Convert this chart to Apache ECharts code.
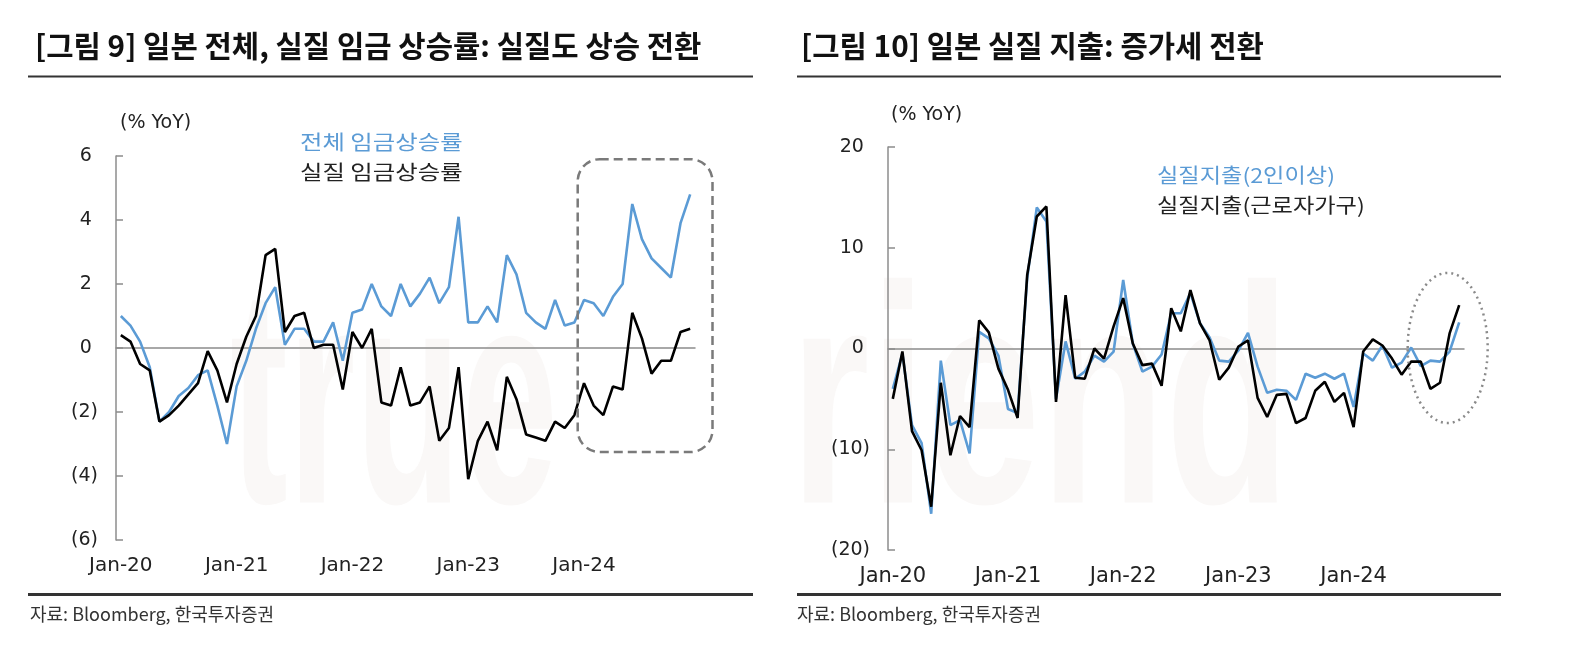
<!DOCTYPE html>
<html>
<head>
<meta charset="utf-8">
<script src="https://cdn.jsdelivr.net/npm/echarts@6/dist/echarts.min.js"></script>
<style>
  html, body { margin: 0; padding: 0; background: #fff; }
  #chart { width: 1578px; height: 656px; }
</style>
</head>
<body>
<div id="chart"></div>
<script>
// 월별 카테고리 (Jan-20 ~ Dec-24)
const monthNames = ['Jan', 'Feb', 'Mar', 'Apr', 'May', 'Jun', 'Jul', 'Aug', 'Sep', 'Oct', 'Nov', 'Dec'];
const yearNames = ['20', '21', '22', '23', '24'];
const categories = yearNames.flatMap((y) => monthNames.map((m) => `${m}-${y}`));

// [그림 9] 임금 상승률 (% YoY)
const nominalWage = [
  1.0, 0.7, 0.2, -0.6, -2.3, -2.0, -1.5, -1.25, -0.85, -0.7, -1.8, -3.0,
  -1.2, -0.4, 0.6, 1.4, 1.9, 0.1, 0.6, 0.6, 0.2, 0.2, 0.8, -0.4,
  1.1, 1.2, 2.0, 1.3, 1.0, 2.0, 1.3, 1.7, 2.2, 1.4, 1.9, 4.1,
  0.8, 0.8, 1.3, 0.8, 2.9, 2.3, 1.1, 0.8, 0.6, 1.5, 0.7, 0.8,
  1.5, 1.4, 1.0, 1.6, 2.0, 4.5, 3.4, 2.8, 2.5, 2.2, 3.9, 4.8,
];
const realWage = [
  0.4, 0.2, -0.5, -0.7, -2.3, -2.1, -1.8, -1.45, -1.1, -0.1, -0.7, -1.7,
  -0.5, 0.35, 1.0, 2.9, 3.1, 0.5, 1.0, 1.1, 0.0, 0.1, 0.1, -1.3,
  0.5, 0.0, 0.6, -1.7, -1.8, -0.6, -1.8, -1.7, -1.2, -2.9, -2.5, -0.6,
  -4.1, -2.9, -2.3, -3.2, -0.9, -1.6, -2.7, -2.8, -2.9, -2.3, -2.5, -2.1,
  -1.1, -1.8, -2.1, -1.2, -1.3, 1.1, 0.3, -0.8, -0.4, -0.4, 0.5, 0.6,
];

// [그림 10] 실질 지출 (% YoY)
const spendTwoPlus = [
  -4.0, -0.5, -7.6, -9.4, -16.4, -1.2, -7.6, -7.1, -10.4, 1.65, 1.0, -0.7,
  -6.0, -6.4, 7.0, 14.0, 12.6, -5.0, 0.7, -3.0, -2.3, -0.7, -1.3, -0.3,
  6.8, 0.5, -2.3, -1.8, -0.6, 3.5, 3.5, 5.5, 2.5, 1.1, -1.2, -1.3,
  -0.2, 1.55, -1.8, -4.4, -4.1, -4.2, -5.1, -2.5, -2.9, -2.5, -3.0, -2.5,
  -5.8, -0.5, -1.2, 0.3, -1.9, -1.4, 0.1, -1.75, -1.2, -1.3, -0.3, 2.6,
];
const spendWorker = [
  -5.0, -0.3, -8.2, -10.1, -15.7, -3.4, -10.6, -6.7, -7.8, 2.8, 1.6, -2.0,
  -4.1, -6.9, 7.3, 13.1, 14.1, -5.3, 5.3, -2.9, -3.0, 0.0, -1.0, 2.2,
  5.0, 0.5, -1.65, -1.5, -3.7, 4.0, 1.7, 5.8, 2.5, 0.8, -3.1, -1.9,
  0.2, 0.8, -4.9, -6.8, -4.6, -4.5, -7.4, -6.9, -4.2, -3.3, -5.3, -4.4,
  -7.8, -0.3, 0.9, 0.3, -1.0, -2.6, -1.3, -1.3, -4.0, -3.4, 1.5, 4.3,
];

const BLUE = '#5b9bd5';
const BLACK = '#000000';
const AXIS_GRAY = '#8c8c8c';
const LATIN = "'DejaVu Sans', 'Noto Sans CJK KR', sans-serif";
const KR = "'Noto Sans CJK KR', sans-serif";

const yFmt = (v) => (v < 0 ? `(${Math.abs(v)})` : `${v} `);

function zeroAxis(gridIndex) {
  return {
    type: 'category', gridIndex, data: categories, boundaryGap: true,
    axisLine: { onZero: true, lineStyle: { color: AXIS_GRAY, width: 1.5 } },
    axisTick: { inside: true, interval: 11, length: 6, lineStyle: { color: AXIS_GRAY, width: 1.5 } },
    axisLabel: { show: false },
  };
}
function labelAxis(gridIndex, size, margin) {
  return {
    type: 'category', gridIndex, data: categories, boundaryGap: true, position: 'bottom',
    axisLine: { show: false, onZero: false }, axisTick: { show: false },
    axisLabel: { interval: 11, color: '#222', fontSize: size, fontFamily: LATIN, margin },
  };
}
function valueAxis(gridIndex, min, max, interval) {
  return {
    type: 'value', gridIndex, min, max, interval,
    axisLine: { show: true, lineStyle: { color: AXIS_GRAY, width: 1.5 } },
    axisTick: { show: true, inside: true, length: 7, lineStyle: { color: AXIS_GRAY, width: 1.5 } },
    splitLine: { show: false },
    axisLabel: { formatter: yFmt, color: '#222', fontSize: 19, fontFamily: LATIN, margin: 18 },
  };
}
function lineSeries(name, data, color, axisIdx) {
  return {
    name, type: 'line', data, xAxisIndex: axisIdx, yAxisIndex: axisIdx / 2,
    symbol: 'none', smooth: false, lineStyle: { color, width: 2.6 }, itemStyle: { color },
    z: color === BLACK ? 3 : 2, silent: true,
  };
}

const chart = echarts.init(document.getElementById('chart'), null, { renderer: 'canvas' });

chart.setOption({
  animation: false,
  backgroundColor: '#fff',
  grid: [
    { left: 116, top: 156, width: 579, height: 384 },
    { left: 888, top: 147, width: 576, height: 403 },
  ],
  xAxis: [zeroAxis(0), labelAxis(0, 20, 16), zeroAxis(1), labelAxis(1, 21, 16)],
  yAxis: [valueAxis(0, -6, 6, 2), valueAxis(1, -20, 20, 10)],
  series: [
    lineSeries('전체 임금상승률', nominalWage, BLUE, 0),
    lineSeries('실질 임금상승률', realWage, BLACK, 0),
    lineSeries('실질지출(2인이상)', spendTwoPlus, BLUE, 2),
    lineSeries('실질지출(근로자가구)', spendWorker, BLACK, 2),
  ],
});

// 주석 도형: 데이터 좌표에서 픽셀로 환산
const px = (axisIdx, idx, val) => chart.convertToPixel({ xAxisIndex: axisIdx, yAxisIndex: axisIdx / 2 }, [idx, val]);
const stepL = px(0, 1, 0)[0] - px(0, 0, 0)[0];
const boxTL = px(0, 48, 5.9);
const boxBR = px(0, 59, -3.25);
const stepR = px(2, 1, 0)[0] - px(2, 0, 0)[0];
const ellTop = px(2, 57, 7.5);
const ellBot = px(2, 57, -7.4);

const text = (str, x, y, size, extra, scaleX) => ({
  type: 'text', x, y, scaleX: scaleX || 1,
  style: Object.assign({ text: str, fontSize: size, fontFamily: KR, fill: '#111' }, extra || {}),
});
const WM = { fontFamily: "'Liberation Sans', sans-serif", fontWeight: 'bold', fill: '#faf8f7' };

chart.setOption({
  graphic: [
    // 워터마크
    Object.assign(text('true', 230, 262, 310, WM, 0.56), { z: -10 }),
    Object.assign(text('riend', 790, 262, 310, WM, 0.66), { z: -10 }),
    // 제목
    text('[그림 9] 일본 전체, 실질 임금 상승률: 실질도 상승 전환', 35, 31, 30, { fontWeight: 'bold' }, 0.99),
    text('[그림 10] 일본 실질 지출: 증가세 전환', 801, 31, 30, { fontWeight: 'bold' }, 0.99),
    { type: 'line', shape: { x1: 28, y1: 76.5, x2: 753, y2: 76.5 }, style: { stroke: '#333', lineWidth: 2 } },
    { type: 'line', shape: { x1: 797, y1: 76.5, x2: 1501, y2: 76.5 }, style: { stroke: '#333', lineWidth: 2 } },
    // 하단 선 및 출처
    { type: 'line', shape: { x1: 28, y1: 594.5, x2: 753, y2: 594.5 }, style: { stroke: '#333', lineWidth: 3 } },
    { type: 'line', shape: { x1: 797, y1: 594.5, x2: 1501, y2: 594.5 }, style: { stroke: '#333', lineWidth: 3 } },
    text('자료: Bloomberg, 한국투자증권', 30, 605, 18, { fill: '#333' }),
    text('자료: Bloomberg, 한국투자증권', 797, 605, 18, { fill: '#333' }),
    // 단위
    text('(% YoY)', 120, 114, 19, { fontFamily: LATIN, fill: '#222' }),
    text('(% YoY)', 891, 106, 19, { fontFamily: LATIN, fill: '#222' }),
    // 범례
    text('전체 임금상승률', 300, 132, 20, { fill: BLUE }, 1.22),
    text('실질 임금상승률', 300, 162, 20, { fill: '#222' }, 1.22),
    text('실질지출(2인이상)', 1157, 165, 20, { fill: BLUE }, 1.16),
    text('실질지출(근로자가구)', 1157, 195, 20, { fill: '#222' }, 1.16),
    // 강조 박스 (점선 둥근 사각형)
    {
      type: 'rect', z: 10,
      shape: {
        x: boxTL[0] - stepL / 2 - 1.5, y: boxTL[1],
        width: boxBR[0] - boxTL[0] + stepL + 19, height: boxBR[1] - boxTL[1], r: 22,
      },
      style: { fill: 'none', stroke: '#7a7a7a', lineWidth: 2.5, lineDash: [9, 5] },
    },
    // 강조 타원 (점선)
    {
      type: 'ellipse', z: 10,
      shape: {
        cx: ellTop[0] + stepR * 0.8, cy: (ellTop[1] + ellBot[1]) / 2,
        rx: 40, ry: (ellBot[1] - ellTop[1]) / 2,
      },
      style: { fill: 'none', stroke: '#8a8a8a', lineWidth: 2.5, lineDash: [2, 4] },
    },
  ],
});
</script>
</body>
</html>
